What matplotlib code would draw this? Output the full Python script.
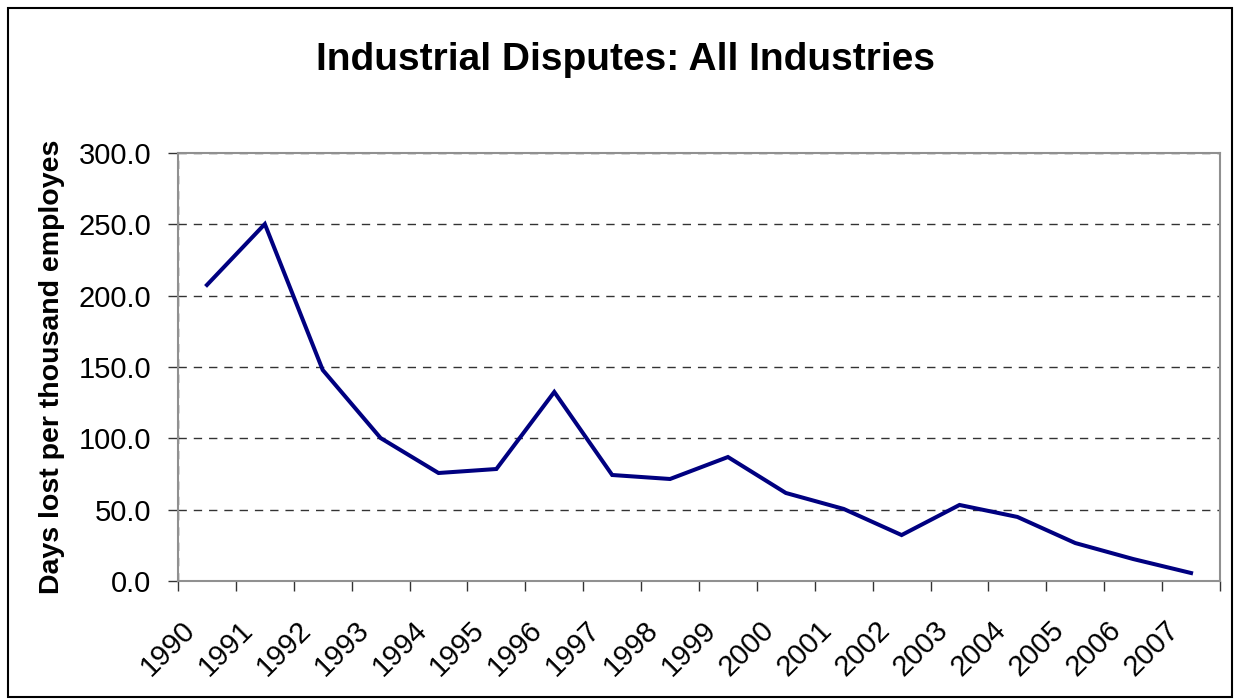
import matplotlib
matplotlib.use("Agg")
import matplotlib.pyplot as plt
import matplotlib.transforms as mtransforms
import numpy as np

years = ["1990", "1991", "1992", "1993", "1994", "1995", "1996", "1997", "1998",
         "1999", "2000", "2001", "2002", "2003", "2004", "2005", "2006", "2007"]
days_lost = [207.5, 250.2, 147.9, 100.2, 75.7, 78.5, 132.5, 74.3, 71.5,
             86.9, 61.7, 50.5, 32.2, 53.3, 44.9, 26.6, 15.4, 5.6]
y_ticks = [0, 50, 100, 150, 200, 250, 300]

plt.rcParams['font.family'] = ['Liberation Sans', 'DejaVu Sans']

fig = plt.figure(figsize=(12.35, 7.0), dpi=100)
ax = fig.add_axes([178/1235, 1 - 581/700, (1220 - 178)/1235, (581 - 153)/700])

n = len(years)
x = np.arange(n) + 0.5
ax.plot(x, days_lost, color="#000080", linewidth=2.9, solid_joinstyle="miter", zorder=3)

ax.set_xlim(0, n)
ax.set_ylim(0, 300)

ax.set_yticks(y_ticks)
ax.set_yticklabels([f"{v:.1f}" for v in y_ticks], fontsize=21)
ax.tick_params(axis="y", direction="out", length=7, width=1, color="#333333", pad=12)

ax.set_xticks(np.arange(n + 1))
ax.set_xticklabels([])
ax.tick_params(axis="x", which="major", direction="out", length=7, width=1, color="#333333")
ax.set_xticks(x, minor=True)
ax.set_xticklabels(years, minor=True, fontsize=21, rotation=45, ha="right", va="top",
                   rotation_mode="anchor")
ax.tick_params(axis="x", which="minor", length=0, pad=25)
offset = mtransforms.ScaledTranslation(-26/100, 0, fig.dpi_scale_trans)
for lbl in ax.xaxis.get_minorticklabels():
    lbl.set_transform(lbl.get_transform() + offset)

for v in y_ticks:
    ax.axhline(v, color="#333333", linestyle=(0, (6, 5)), linewidth=1.0, zorder=1)
ax.axvline(0, color="#333333", linestyle=(0, (6, 5)), linewidth=1.0, zorder=1)

for s in ax.spines.values():
    s.set_color("#909090")
    s.set_linewidth(1.5)

ax.set_ylabel("Days lost per thousand employes", fontsize=20.5, fontweight="bold", labelpad=10)
fig.text(626/1235, 1 - 60/700, "Industrial Disputes: All Industries", fontsize=28,
         fontweight="bold", ha="center", va="center")

border = plt.Rectangle((8/1235, 3/700), (1232 - 8)/1235, (697 - 8)/700, transform=fig.transFigure,
                       fill=False, edgecolor="black", linewidth=1.5)
fig.patches.append(border)

fig.savefig("out.png", dpi=100)
